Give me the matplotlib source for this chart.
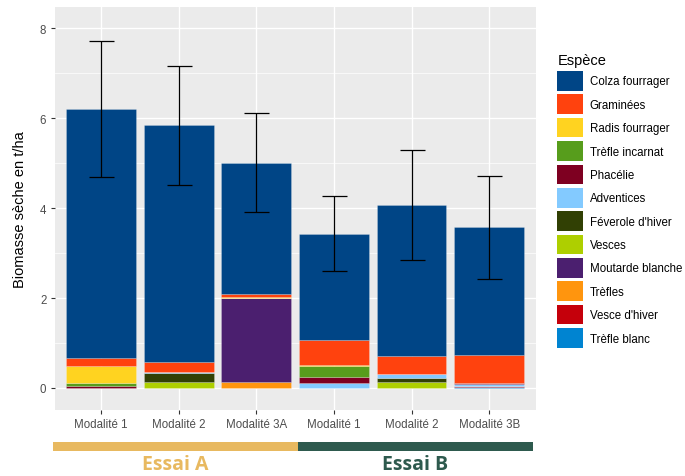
import numpy as np
import matplotlib
matplotlib.use("Agg")
import matplotlib.pyplot as plt
from matplotlib.patches import Patch, Rectangle
import matplotlib.transforms as mtransforms

plt.rcParams["font.family"] = ["Liberation Sans", "DejaVu Sans"]

# bars: Essai A (Modalité 1, 2, 3A) then Essai B (Modalité 1, 2, 3B)
modalites = ["Modalité 1", "Modalité 2", "Modalité 3A", "Modalité 1", "Modalité 2", "Modalité 3B"]
essais = ["Essai A", "Essai B"]
essai_size = [3, 3]

especes = ["Colza fourrager", "Graminées", "Radis fourrager", "Trèfle incarnat", "Phacélie",
           "Adventices", "Féverole d'hiver", "Vesces", "Moutarde blanche", "Trèfles",
           "Vesce d'hiver", "Trèfle blanc"]
couleurs = ["#004586", "#ff420e", "#ffd320", "#579d1c", "#7e0021", "#83caff",
            "#314004", "#aecf00", "#4b1f6f", "#ff950e", "#c5000b", "#0084d1"]

colza = [5.53, 5.27, 2.93, 2.37, 3.34, 2.84]
graminees = [0.18, 0.21, 0.06, 0.54, 0.41, 0.62]
radis = [0.38, 0.0, 0.01, 0.04, 0.0, 0.0]
trefle_incarnat = [0.075, 0.0, 0.0, 0.23, 0.0, 0.0]
phacelie = [0.03, 0.0, 0.0, 0.13, 0.0, 0.02]
adventices = [0.0, 0.03, 0.0, 0.12, 0.09, 0.05]
feverole = [0.0, 0.19, 0.0, 0.0, 0.09, 0.0]
vesces = [0.01, 0.14, 0.0, 0.0, 0.13, 0.0]
moutarde = [0.0, 0.0, 1.87, 0.0, 0.0, 0.0]
trefles = [0.0, 0.0, 0.14, 0.0, 0.0, 0.0]
vesce_hiver = [0.0, 0.0, 0.0, 0.0, 0.0, 0.02]
trefle_blanc = [0.0, 0.0, 0.0, 0.0, 0.0, 0.02]

ecart_type = [1.51, 1.32, 1.10, 0.83, 1.22, 1.15]

series = [colza, graminees, radis, trefle_incarnat, phacelie, adventices,
          feverole, vesces, moutarde, trefles, vesce_hiver, trefle_blanc]

fig = plt.figure(figsize=(6.85, 4.77), dpi=100)
ax = fig.add_axes([54.7 / 685, 66 / 477, 481 / 685, 403 / 477])
ax.set_facecolor("#EBEBEB")

x = np.arange(len(modalites))
# ggplot stacks the first level on top -> draw from the last species up
bottom = np.zeros(len(modalites))
for name, col, vals in reversed(list(zip(especes, couleurs, series))):
    vals = np.array(vals)
    ax.bar(x, vals, width=0.9, bottom=bottom, color=col, edgecolor=(1, 1, 1, 0.35),
           linewidth=0.4, zorder=2)
    bottom += vals

ax.errorbar(x, bottom, yerr=ecart_type, fmt="none", ecolor="black", elinewidth=0.9,
            capsize=9, capthick=0.9, zorder=3)

ax.set_xlim(-0.6, len(modalites) - 0.4)
ax.set_ylim(-0.49, 8.47)
ax.set_yticks([0, 2, 4, 6, 8])
ax.set_yticks([1, 3, 5, 7], minor=True)
ax.set_xticks(x)
ax.set_xticklabels(modalites)
ax.grid(which="major", color="white", linewidth=1.0, zorder=0)
ax.grid(which="minor", axis="y", color="white", linewidth=0.5, zorder=0)
ax.set_axisbelow(True)
for s in ax.spines.values():
    s.set_visible(False)
ax.tick_params(axis="both", which="major", length=3, width=0.8, color="#333333",
               labelsize=8.3, labelcolor="#4D4D4D", pad=3)
ax.tick_params(axis="y", which="minor", length=0)
ax.set_ylabel("Biomasse sèche en t/ha", fontsize=10.5, color="black", labelpad=9)

# legend
handles = [Patch(facecolor=c, edgecolor="none", label=n) for n, c in zip(especes, couleurs)]
leg = fig.legend(handles=handles, loc="upper left", bbox_to_anchor=(547 / 685, 1 - 44 / 477),
                 frameon=False, title="Espèce", fontsize=8.3, title_fontsize=10.5,
                 handlelength=2.2, handleheight=2.25, labelspacing=0.32, handletextpad=0.6,
                 alignment="left")

# essai bands under the axis
trans = mtransforms.blended_transform_factory(ax.transData, fig.transFigure)
start = -0.62
band_colors = ["#E8B960", "#2E5A4E"]
for lab, n, col in zip(essais, essai_size, band_colors):
    if lab == essais[0]:
        end = start + n + 0.16
    else:
        end = 5.56
    fig.patches.append(Rectangle((start, 25 / 477), end - start, 9 / 477, transform=trans,
                                 facecolor=col, edgecolor="none"))
    fig.text((start + end) / 2, 7 / 477, lab, transform=trans, ha="center", va="baseline",
             fontsize=14, fontweight="bold", color=col, family=["Open Sans", "DejaVu Sans"])
    start = end

fig.savefig("out.png", dpi=100)
